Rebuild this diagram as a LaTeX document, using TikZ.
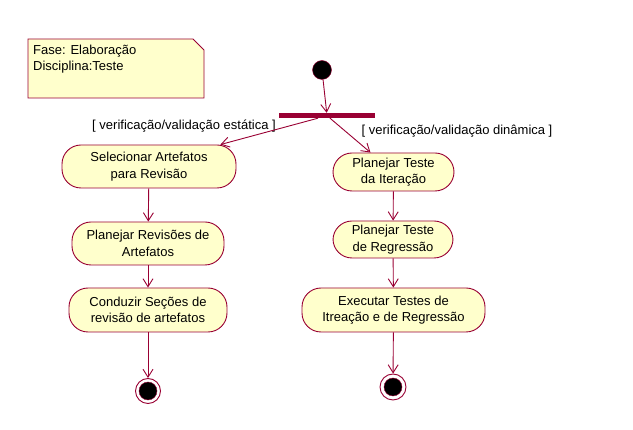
\documentclass[tikz,border=0pt]{standalone}
\usepackage{fontspec}
\setmainfont{Liberation Sans}
\usetikzlibrary{arrows.meta}
\definecolor{umlred}{HTML}{990033}
\definecolor{umlfill}{HTML}{FFFFCC}

\tikzset{
  activity/.style={draw=umlred, fill=umlfill, rounded corners=19pt, align=center,
    inner sep=0pt, line width=0.9pt},
  flow/.style={draw=umlred, line width=0.9pt, -{Straight Barb[length=8pt,width=10pt]}},
  guard/.style={inner sep=0pt},
}

\begin{document}
\begin{tikzpicture}[x=1pt,y=-1pt,font=\fontsize{13}{16.5}\selectfont]
\useasboundingbox (0,0) rectangle (633,430);
% note
\filldraw[draw=umlred,fill=umlfill,line width=0.9pt] (28,39) -- (193,39) -- (204,50) -- (204,98) -- (28,98) -- cycle;
\node[anchor=north west,align=left,inner sep=0pt,font=\fontsize{13}{15.5}\selectfont] (note) at (33,45) {Fase: Elaboração\\Disciplina:Teste};
% start and fork
\node[circle,fill=black,draw=umlred,minimum size=19pt,inner sep=0pt] (start) at (322,70) {};
\node[fill=umlred,minimum width=96pt,minimum height=5pt,inner sep=0pt] (fork) at (327,115.5) {};
\draw[flow] (start) -- (fork);
% static branch
\node[activity,minimum width=174pt,minimum height=43pt] (sel) at (149,166.5) {Selecionar Artefatos\\para Revisão};
\node[activity,minimum width=152pt,minimum height=43pt] (planrev) at (148,243.5) {Planejar Revisões de\\Artefatos};
\node[activity,minimum width=158pt,minimum height=44pt] (cond) at (148,310) {Conduzir Seções de\\revisão de artefatos};
\node[circle,draw=umlred,fill=white,line width=0.9pt,minimum size=25pt,inner sep=0pt] (end1) at (148,391) {};
\filldraw[fill=black,draw=umlred] (end1) circle[radius=9pt];
\node[guard] (gstatic) at (184,126) {[ verificação/validação estática ]};
\draw[flow] ([xshift=-9pt]fork.south) -- ([xshift=-16pt]sel.north east);
\draw[flow] (sel) -- (planrev);
\draw[flow] (planrev) -- (cond);
\draw[flow] (cond) -- (end1);
% dynamic branch
\node[activity,minimum width=121pt,minimum height=38pt] (planit) at (393.5,172) {Planejar Teste\\da Iteração};
\node[activity,minimum width=120pt,minimum height=37pt] (planreg) at (393,239.5) {Planejar Teste\\de Regressão};
\node[activity,minimum width=183pt,minimum height=44pt] (exec) at (393.5,310) {Executar Testes de\\Itreação e de Regressão};
\node[circle,draw=umlred,fill=white,line width=0.9pt,minimum size=26pt,inner sep=0pt] (end2) at (393,387) {};
\filldraw[fill=black,draw=umlred] (end2) circle[radius=9pt];
\node[guard] (gdyn) at (457,131) {[ verificação/validação dinâmica ]};
\draw[flow] ([xshift=3pt]fork.south) -- ([xshift=-23pt]planit.north);
\draw[flow] (planit) -- (planreg);
\draw[flow] (planreg) -- (exec);
\draw[flow] (exec) -- (end2);
\end{tikzpicture}
\end{document}
